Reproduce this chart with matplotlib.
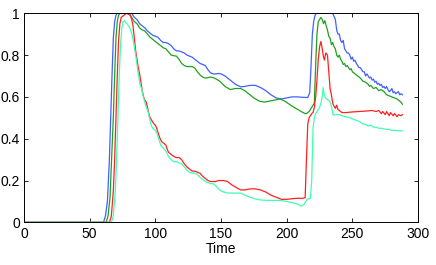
import matplotlib
matplotlib.use("Agg")
import matplotlib.pyplot as plt
import numpy as np

plt.rcParams['font.family'] = ['Liberation Sans', 'DejaVu Sans']

# each series is (time, value) pairs
blue = [(0, 0), (60.5, 0), (62, 0.03), (63.5, 0.1), (65, 0.3), (66, 0.5), (67, 0.7), (68, 0.88),
        (69, 0.96), (70, 0.99), (71, 1), (82, 1), (84, 0.98), (86, 0.97), (88, 0.95), (90, 0.94),
        (92, 0.93), (94, 0.915), (96, 0.905), (98, 0.895), (100, 0.89), (102, 0.885),
        (104, 0.87), (106, 0.86), (108, 0.86), (110, 0.855), (112, 0.845), (114, 0.83),
        (116, 0.82), (118, 0.82), (120, 0.815), (122, 0.81), (124, 0.8), (126, 0.795),
        (128, 0.79), (130, 0.78), (132, 0.77), (134, 0.76), (136, 0.755), (138, 0.75),
        (140, 0.73), (142, 0.715), (144, 0.71), (146, 0.71), (148, 0.712), (150, 0.71),
        (153, 0.7), (157, 0.68), (161, 0.66), (165, 0.648), (168, 0.65), (172, 0.655),
        (176, 0.655), (180, 0.645), (184, 0.63), (188, 0.61), (192, 0.595), (196, 0.59),
        (200, 0.595), (204, 0.6), (208, 0.6), (212, 0.598), (216, 0.597), (217.5, 0.62),
        (218.5, 0.75), (219.5, 0.9), (220.5, 0.96), (221.5, 0.99), (222.5, 1), (235, 1),
        (237, 0.97), (238, 0.92), (239, 0.9), (240, 0.9), (241, 0.87), (242, 0.86), (243, 0.87),
        (244, 0.83), (245, 0.82), (246, 0.81), (247, 0.81), (248, 0.8), (249, 0.78), (250, 0.79),
        (251, 0.77), (252, 0.775), (253, 0.76), (254, 0.75), (255, 0.74), (256, 0.74),
        (257, 0.73), (258, 0.72), (259, 0.72), (260, 0.70), (261, 0.71), (262, 0.70),
        (263, 0.69), (264, 0.695), (265, 0.68), (266, 0.685), (267, 0.67), (268, 0.675),
        (269, 0.66), (270, 0.665), (271, 0.655), (272, 0.66), (273, 0.645), (274, 0.65),
        (275, 0.64), (276, 0.65), (277, 0.635), (278, 0.625), (279, 0.63), (280, 0.64),
        (281, 0.62), (282, 0.625), (283, 0.615), (284, 0.62), (285, 0.625), (286, 0.61),
        (287, 0.615), (288, 0.61)]

green = [(0, 0), (62.5, 0), (64, 0.03), (65.5, 0.12), (67, 0.35), (68, 0.5), (69, 0.7),
         (70, 0.88), (71, 0.96), (72, 0.99), (73, 1), (80, 1), (82, 0.98), (84, 0.96),
         (86, 0.95), (88, 0.93), (90, 0.92), (92, 0.915), (94, 0.9), (96, 0.885), (98, 0.875),
         (100, 0.865), (102, 0.855), (104, 0.845), (106, 0.835), (108, 0.83), (110, 0.815),
         (112, 0.8), (114, 0.797), (116, 0.795), (118, 0.78), (120, 0.76), (122, 0.75),
         (124, 0.745), (126, 0.745), (128, 0.745), (130, 0.738), (132, 0.72), (134, 0.705),
         (136, 0.695), (138, 0.69), (140, 0.692), (142, 0.695), (145, 0.69), (149, 0.675),
         (153, 0.65), (157, 0.635), (161, 0.64), (165, 0.64), (168, 0.63), (172, 0.61),
         (175, 0.595), (179, 0.58), (183, 0.575), (187, 0.58), (191, 0.585), (195, 0.59),
         (199, 0.578), (203, 0.56), (207, 0.545), (211, 0.53), (214, 0.52), (215, 0.52),
         (217, 0.53), (219, 0.55), (221, 0.57), (222, 0.75), (223, 0.9), (224, 0.96),
         (225, 0.97), (226, 0.98), (227, 0.97), (228, 0.95), (229, 0.965), (230, 0.94),
         (231, 0.92), (232, 0.89), (233, 0.88), (234, 0.85), (235, 0.86), (236, 0.84),
         (237, 0.83), (238, 0.80), (239, 0.79), (240, 0.80), (241, 0.78), (242, 0.77),
         (243, 0.755), (244, 0.76), (245, 0.745), (246, 0.75), (247, 0.74), (248, 0.73),
         (249, 0.735), (250, 0.72), (252, 0.71), (254, 0.70), (256, 0.69), (258, 0.675),
         (260, 0.67), (262, 0.66), (263, 0.65), (264, 0.655), (266, 0.64), (268, 0.645),
         (270, 0.63), (272, 0.635), (274, 0.625), (276, 0.61), (278, 0.605), (280, 0.60),
         (282, 0.595), (284, 0.59), (286, 0.58), (287, 0.575), (288, 0.565)]

red = [(0, 0), (65, 0), (66.5, 0.03), (68, 0.15), (69, 0.3), (70, 0.5), (71, 0.7), (72, 0.87),
       (73, 0.95), (74, 0.98), (76, 0.99), (78, 1), (81, 0.99), (82, 0.97), (83, 0.94),
       (84, 0.88), (85, 0.82), (86, 0.78), (87, 0.74), (88, 0.71), (89, 0.67), (90, 0.63),
       (91, 0.6), (92, 0.585), (93, 0.575), (94, 0.55), (95, 0.52), (96, 0.5), (97, 0.49),
       (98, 0.48), (99, 0.47), (100, 0.465), (101, 0.45), (102, 0.43), (103, 0.41),
       (104, 0.395), (105, 0.385), (106, 0.38), (107, 0.375), (108, 0.37), (109, 0.35),
       (110, 0.335), (112, 0.325), (114, 0.315), (116, 0.31), (118, 0.31), (120, 0.3),
       (122, 0.28), (124, 0.265), (126, 0.255), (128, 0.245), (130, 0.245), (132, 0.24),
       (134, 0.235), (136, 0.22), (138, 0.21), (140, 0.2), (142, 0.195), (144, 0.195),
       (146, 0.195), (148, 0.2), (150, 0.2), (152, 0.2), (155, 0.195), (158, 0.18),
       (162, 0.165), (165, 0.155), (168, 0.155), (172, 0.16), (176, 0.16), (180, 0.155),
       (184, 0.145), (188, 0.13), (192, 0.12), (196, 0.11), (200, 0.11), (204, 0.113),
       (208, 0.115), (212, 0.115), (214, 0.118), (215, 0.3), (216, 0.47), (217, 0.5),
       (218, 0.51), (219, 0.52), (220, 0.525), (221, 0.55), (222, 0.6), (223, 0.68),
       (224, 0.78), (225, 0.84), (226, 0.865), (227, 0.83), (228, 0.79), (228.7, 0.776),
       (229.7, 0.81), (231, 0.8), (232, 0.72), (233, 0.64), (234, 0.61), (235, 0.57),
       (236, 0.555), (237, 0.545), (238, 0.56), (239, 0.54), (240, 0.535), (241, 0.53),
       (242, 0.525), (245, 0.525), (250, 0.528), (255, 0.53), (260, 0.532), (265, 0.535),
       (268, 0.53), (270, 0.535), (272, 0.52), (273, 0.53), (275, 0.515), (276, 0.53),
       (278, 0.51), (279, 0.525), (281, 0.51), (282, 0.52), (284, 0.505), (285, 0.515),
       (287, 0.51), (288, 0.515)]

cyan = [(0, 0), (66.5, 0), (68, 0.03), (69.5, 0.15), (70.5, 0.3), (71.5, 0.5), (72.5, 0.7),
        (73.5, 0.85), (74.5, 0.93), (75.5, 0.96), (76.5, 0.965), (77.5, 0.955), (78.5, 0.95),
        (79.5, 0.94), (80.5, 0.93), (81.5, 0.915), (82.5, 0.89), (83.5, 0.86), (84.5, 0.82),
        (85.5, 0.78), (86.5, 0.73), (87.5, 0.69), (88.5, 0.655), (89.5, 0.64), (90.5, 0.61),
        (91.5, 0.585), (92.5, 0.56), (93.5, 0.545), (94.5, 0.53), (95.5, 0.5), (96.5, 0.47),
        (97.5, 0.455), (98.5, 0.448), (99.5, 0.442), (100.5, 0.435), (101.5, 0.42),
        (102.5, 0.4), (103.5, 0.38), (104.5, 0.365), (105.5, 0.358), (106.5, 0.352),
        (107.5, 0.345), (108.5, 0.335), (110, 0.315), (112, 0.3), (114, 0.29), (116, 0.29),
        (118, 0.285), (120, 0.28), (122, 0.265), (124, 0.25), (126, 0.24), (128, 0.235),
        (130, 0.235), (132, 0.23), (134, 0.215), (136, 0.205), (138, 0.195), (140, 0.19),
        (142, 0.185), (144, 0.185), (146, 0.175), (148, 0.16), (150, 0.15), (152, 0.145),
        (155, 0.14), (158, 0.14), (162, 0.14), (165, 0.14), (168, 0.13), (172, 0.12),
        (176, 0.112), (180, 0.107), (185, 0.105), (190, 0.105), (195, 0.105), (200, 0.1),
        (204, 0.095), (208, 0.088), (211, 0.077), (213, 0.085), (215.5, 0.11), (218, 0.115),
        (219, 0.2), (220, 0.45), (221, 0.5), (222, 0.52), (223, 0.53), (224, 0.54),
        (225, 0.55), (226, 0.57), (227, 0.6), (227.7, 0.645), (228.5, 0.61), (229.5, 0.595),
        (230.5, 0.59), (231.5, 0.585), (232.5, 0.58), (233.5, 0.57), (234.5, 0.54),
        (235.3, 0.513), (238, 0.515), (240, 0.515), (242, 0.51), (245, 0.505), (248, 0.5),
        (250, 0.495), (252, 0.49), (254, 0.485), (256, 0.48), (258, 0.47), (260, 0.47),
        (262, 0.46), (264, 0.465), (266, 0.455), (268, 0.455), (270, 0.45), (272, 0.45),
        (275, 0.445), (278, 0.445), (280, 0.44), (283, 0.44), (286, 0.438), (288, 0.437)]

series = [(blue, '#4060ff'), (green, '#20a020'), (red, '#ff2020'), (cyan, '#40ffb0')]

fig = plt.figure(figsize=(4.36, 2.65), dpi=100)
ax = fig.add_axes([0.055, 0.161, 0.904, 0.789])

for pts, col in series:
    arr = np.array(pts)
    ax.plot(arr[:, 0], arr[:, 1], color=col, lw=0.9)

ax.set_xlim(0, 300)
ax.set_ylim(0, 1)
ax.set_xticks([0, 50, 100, 150, 200, 250, 300])
ax.set_yticks([0, 0.2, 0.4, 0.6, 0.8, 1])
ax.set_yticklabels(['0', '0.2', '0.4', '0.6', '0.8', '1'])
ax.tick_params(direction='in', top=True, right=True, labelsize=10, length=3, width=0.6, pad=3)
for s in ax.spines.values():
    s.set_linewidth(0.7)
ax.set_xlabel('Time', fontsize=10, labelpad=1)

fig.savefig('out.png', dpi=100)
